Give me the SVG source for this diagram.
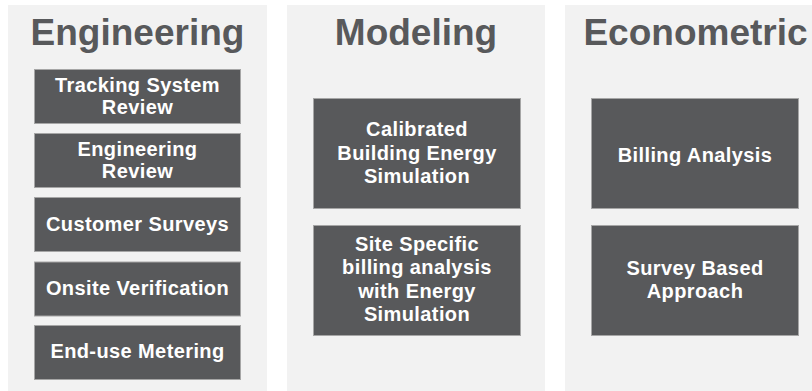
<svg xmlns="http://www.w3.org/2000/svg" width="812" height="391" viewBox="0 0 812 391">
<style>
.panel{fill:#f2f2f2}
.title{font-family:"Liberation Sans",Arial,sans-serif;font-weight:bold;font-size:37px;fill:#58595b;text-anchor:middle}
.box{fill:#58595b;stroke:#a6a6a6;stroke-width:1}
.lbl{font-family:"Liberation Sans",Arial,sans-serif;font-weight:bold;font-size:20px;fill:#ffffff;text-anchor:middle;letter-spacing:0.4px}
</style>
<rect width="812" height="391" fill="#ffffff"/>
<g id="col-engineering">
<rect class="panel" x="8" y="5" width="259" height="386"/>
<text class="title" x="137.5" y="45">Engineering</text>
</g>
<g id="col-modeling">
<rect class="panel" x="287" y="5" width="258" height="386"/>
<text class="title" x="416" y="45">Modeling</text>
</g>
<g id="col-econometric">
<rect class="panel" x="565" y="5" width="259" height="386"/>
<text class="title" x="695.5" y="45">Econometric</text>
</g>
<g id="n-tracking">
<rect class="box" x="34.5" y="69.5" width="206" height="54"/>
<text class="lbl" x="137.5" y="91.5">Tracking System</text>
<text class="lbl" x="137.5" y="113.5">Review</text>
</g>
<g id="n-engreview">
<rect class="box" x="34.5" y="133.5" width="206" height="54"/>
<text class="lbl" x="137.5" y="156">Engineering</text>
<text class="lbl" x="137.5" y="178.3">Review</text>
</g>
<g id="n-surveys">
<rect class="box" x="34.5" y="197.5" width="206" height="54"/>
<text class="lbl" x="137.5" y="231">Customer Surveys</text>
</g>
<g id="n-onsite">
<rect class="box" x="34.5" y="262" width="206" height="54"/>
<text class="lbl" x="137.5" y="295">Onsite Verification</text>
</g>
<g id="n-enduse">
<rect class="box" x="34.5" y="325.5" width="206" height="54"/>
<text class="lbl" x="137.5" y="358">End-use Metering</text>
</g>
<g id="n-calibrated">
<rect class="box" x="313.5" y="98.5" width="207" height="110"/>
<text class="lbl" x="417" y="136">Calibrated</text>
<text class="lbl" x="417" y="160">Building Energy</text>
<text class="lbl" x="417" y="183">Simulation</text>
</g>
<g id="n-sitespecific">
<rect class="box" x="313.5" y="225.5" width="207" height="110"/>
<text class="lbl" x="417" y="251">Site Specific</text>
<text class="lbl" x="417" y="274.3">billing analysis</text>
<text class="lbl" x="417" y="297.7">with Energy</text>
<text class="lbl" x="417" y="321">Simulation</text>
</g>
<g id="n-billing">
<rect class="box" x="591.5" y="98.5" width="207" height="110"/>
<text class="lbl" x="695" y="161.5">Billing Analysis</text>
</g>
<g id="n-surveybased">
<rect class="box" x="591.5" y="225.5" width="207" height="110"/>
<text class="lbl" x="695" y="274.7">Survey Based</text>
<text class="lbl" x="695" y="297.5">Approach</text>
</g>
<g id="connectors"></g>
</svg>
